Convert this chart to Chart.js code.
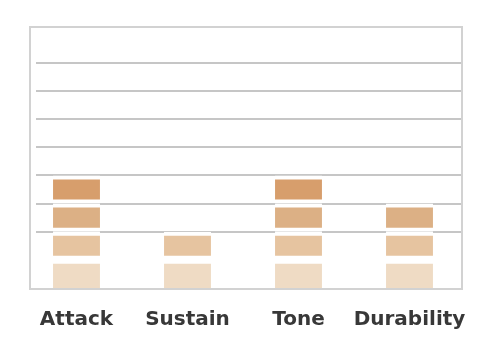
<!DOCTYPE html>
<html>
<head>
<meta charset="utf-8">
<script src="https://cdn.jsdelivr.net/npm/chart.js@4/dist/chart.umd.min.js"></script>
<style>
  html, body { margin: 0; padding: 0; background: #ffffff; }
  #wrap { width: 500px; height: 354px; }
</style>
</head>
<body>
<div id="wrap"><canvas id="c" width="500" height="354"></canvas></div>
<script>
// ---- data ----
const categories = ["Attack", "Sustain", "Tone", "Durability"];
const scores = [4, 2, 4, 3];            // number of filled blocks per category
const levelColors = ["#efdbc4", "#e6c4a0", "#dcb085", "#d79e6c"]; // level 1..4
const gridTicks = [2, 3, 4, 5, 6, 7, 8];  // visible horizontal rules
const yMax = 9.27;

const datasets = levelColors.map((col, i) => {
  const level = i + 1;
  return {
    label: "Level " + level,
    data: scores.map(s => (s >= level ? 1 : null)),
    backgroundColor: col,
    borderColor: "#ffffff",
    borderWidth: { top: 4, bottom: level === 1 ? 0 : 4, left: 0, right: 0 },
    borderSkipped: false,
    barPercentage: 0.423,
    categoryPercentage: 1.0
  };
});

const frame = {
  id: "frame",
  beforeDatasetsDraw(chart) {
    const { ctx, chartArea, scales } = chart;
    const y = scales.y;
    const boxL = chartArea.left + 9, boxR = chartArea.right - 3;
    ctx.save();
    ctx.strokeStyle = "#c6c6c6";
    ctx.lineWidth = 2;
    gridTicks.forEach(v => {
      const py = Math.round(y.getPixelForValue(v));
      ctx.beginPath();
      ctx.moveTo(boxL + 6, py);
      ctx.lineTo(boxR, py);
      ctx.stroke();
    });
    ctx.strokeStyle = "#d2d2d2";
    ctx.lineWidth = 2;
    ctx.strokeRect(boxL, chartArea.top, boxR - boxL, chartArea.bottom - chartArea.top + 1);
    ctx.restore();
  }
};

new Chart(document.getElementById("c"), {
  type: "bar",
  data: { labels: categories, datasets },
  plugins: [frame],
  options: {
    responsive: false,
    animation: false,
    devicePixelRatio: 1,
    layout: { padding: { left: 21, right: 35, top: 27, bottom: 2 } },
    plugins: { legend: { display: false }, tooltip: { enabled: false } },
    scales: {
      x: {
        stacked: true,
        grid: { display: false, drawTicks: false },
        border: { display: false },
        ticks: {
          padding: 20,
          autoSkip: false,
          minRotation: 0,
          maxRotation: 0,
          color: "#383838",
          font: { family: "DejaVu Sans", weight: "bold", size: 20 }
        }
      },
      y: {
        stacked: true,
        min: 0,
        max: yMax,
        display: false
      }
    }
  }
});
</script>
</body>
</html>
